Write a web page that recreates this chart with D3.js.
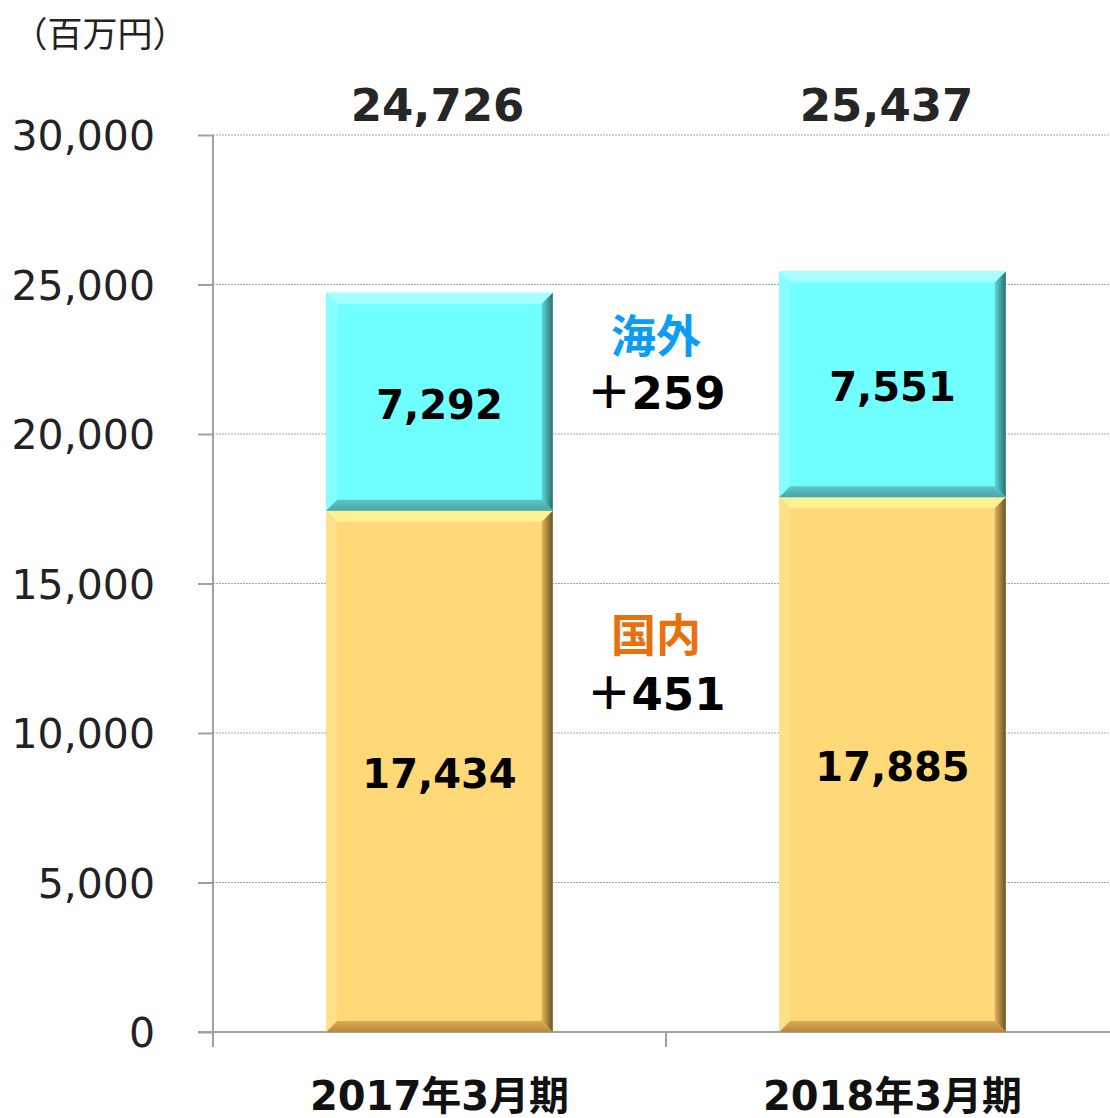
<!DOCTYPE html>
<html><head><meta charset="utf-8">
<script src="https://cdn.jsdelivr.net/npm/d3@7"></script>
<style>
body{margin:0;background:#fff;}
svg text{font-family:"DejaVu Sans","Noto Sans CJK JP",sans-serif;}
</style></head>
<body><svg id="c" width="1110" height="1118"></svg>
<script>
const categories = ["2017年3月期", "2018年3月期"];
const domestic = [17434, 17885];
const overseas = [7292, 7551];
const totals = [24726, 25437];
const yTicks = [0, 5000, 10000, 15000, 20000, 25000, 30000];
const unitLabel = "（百万円）";
const overseasName = "海外", overseasChange = "＋259";
const domesticName = "国内", domesticChange = "＋451";

const svg = d3.select("#c");
const x = d3.scaleBand().domain(categories).range([213, 1119]).paddingInner(0).paddingOuter(0);
const y = d3.scaleLinear().domain([0, 30000]).range([1032, 135]);
const barW = x.bandwidth() * 0.5;
const bx = c => x(c) + (x.bandwidth() - barW) / 2;
const fmt = d3.format(",");

// gridlines
svg.append("g").selectAll("line").data(yTicks.filter(d => d > 0)).join("line")
  .attr("x1", 213).attr("x2", 1110).attr("y1", d => y(d)).attr("y2", d => y(d))
  .attr("stroke", "#a6a6a6").attr("stroke-width", 1).attr("stroke-dasharray", "2,1");

// axes
const ya = svg.append("g").attr("transform", "translate(213,0)")
  .call(d3.axisLeft(y).tickValues(yTicks).tickSize(15).tickPadding(0).tickFormat(fmt));
ya.select(".domain").attr("stroke", "#a0a0a0").attr("stroke-width", 2).attr("d", "M0,135V1047");
ya.selectAll(".tick line").attr("stroke", "#a0a0a0").attr("stroke-width", 2);
ya.selectAll(".tick text").attr("x", -58).attr("dy", "0.36em")
  .attr("font-size", 41).attr("fill", "#222").attr("font-family", "DejaVu Sans");

const xa = svg.append("g").attr("transform", "translate(0,1032)")
  .call(d3.axisBottom(x).tickSize(0).tickFormat(""));
xa.select(".domain").attr("stroke", "#a0a0a0").attr("stroke-width", 2).attr("d", "M198,0H1110");
svg.append("g").selectAll("line").data([213, 666]).join("line")
  .attr("x1", d => d).attr("x2", d => d).attr("y1", 1032).attr("y2", 1047)
  .attr("stroke", "#a0a0a0").attr("stroke-width", 2);

// gradients
const defs = svg.append("defs");
function grad(id, c1, c2, x2, y2) {
  const g = defs.append("linearGradient").attr("id", id).attr("x1", 0).attr("y1", 0).attr("x2", x2).attr("y2", y2);
  g.append("stop").attr("offset", 0).attr("stop-color", c1);
  g.append("stop").attr("offset", 1).attr("stop-color", c2);
}
const pal = {
  cyan: {base: "#6fffff", top: "#a8ffff", left: "#85ffff", right: ["#5fd8d8", "#2b6f6f"], bottom: ["#5cc6c6", "#4aa6a6"]},
  gold: {base: "#ffd878", top: "#fff094", left: "#ffe08a", right: ["#e0b55c", "#6b5222"], bottom: ["#d9ab55", "#b8893c"]}
};
Object.entries(pal).forEach(([k, p]) => {
  grad(k + "R", p.right[0], p.right[1], 1, 0);
  grad(k + "B", p.bottom[0], p.bottom[1], 0, 1);
});

function bevel(g, x0, y0, w, h, key) {
  const p = pal[key], b = 11;
  g.append("rect").attr("x", x0).attr("y", y0).attr("width", w).attr("height", h).attr("fill", p.base);
  const poly = (pts, fill) => g.append("polygon").attr("points", pts.map(q => q.join(",")).join(" ")).attr("fill", fill);
  poly([[x0, y0], [x0 + w, y0], [x0 + w - b, y0 + b], [x0 + b, y0 + b]], p.top);
  poly([[x0, y0], [x0 + b, y0 + b], [x0 + b, y0 + h - b], [x0, y0 + h]], p.left);
  poly([[x0 + w, y0], [x0 + w, y0 + h], [x0 + w - b, y0 + h - b], [x0 + w - b, y0 + b]], `url(#${key}R)`);
  poly([[x0, y0 + h], [x0 + b, y0 + h - b], [x0 + w - b, y0 + h - b], [x0 + w, y0 + h]], `url(#${key}B)`);
}

const bars = svg.append("g");
categories.forEach((c, i) => {
  bevel(bars, bx(c), y(domestic[i]), barW, y(0) - y(domestic[i]), "gold");
  bevel(bars, bx(c), y(domestic[i] + overseas[i]), barW, y(domestic[i]) - y(domestic[i] + overseas[i]), "cyan");
});

// value labels
const lab = svg.append("g").attr("text-anchor", "middle").attr("font-weight", "bold");
categories.forEach((c, i) => {
  const cx = bx(c) + barW / 2;
  lab.append("text").attr("x", cx).attr("y", (y(0) + y(domestic[i])) / 2).attr("dy", "0.42em")
    .attr("font-size", 40).attr("fill", "#000").text(fmt(domestic[i]));
  lab.append("text").attr("x", cx).attr("y", (y(domestic[i]) + y(domestic[i] + overseas[i])) / 2).attr("dy", "0.42em")
    .attr("font-size", 40).attr("fill", "#000").text(fmt(overseas[i]));
  lab.append("text").attr("x", cx - (i ? 6 : 2)).attr("y", y(30000) - 14)
    .attr("font-size", 45).attr("fill", "#262626").text(fmt(totals[i]));
  svg.append("text").attr("x", cx).attr("y", 1096).attr("dy", "0.36em").attr("text-anchor", "middle")
    .attr("font-weight", "bold").attr("font-size", 40).attr("fill", "#111").text(c);
});

// change annotations
const mx = (bx(categories[0]) + bx(categories[1]) + barW) / 2 - 10;
const ann = svg.append("g").attr("text-anchor", "middle").attr("font-weight", "bold");
ann.append("text").attr("x", mx).attr("y", y(23250)).attr("dy", "0.36em").attr("font-size", 45)
  .attr("fill", "#0b9cf6").attr("font-family", "Noto Sans CJK JP").text(overseasName);
ann.append("text").attr("x", mx).attr("y", y(21380)).attr("dy", "0.36em").attr("font-size", 45)
  .attr("fill", "#000").text(overseasChange);
ann.append("text").attr("x", mx).attr("y", y(13240)).attr("dy", "0.36em").attr("font-size", 45)
  .attr("fill", "#e8700f").attr("font-family", "Noto Sans CJK JP").text(domesticName);
ann.append("text").attr("x", mx).attr("y", y(11300)).attr("dy", "0.36em").attr("font-size", 45)
  .attr("fill", "#000").text(domesticChange);

// unit label
svg.append("text").attr("x", 100).attr("y", 34).attr("dy", "0.36em").attr("text-anchor", "middle")
  .attr("font-size", 35).attr("fill", "#222").attr("font-family", "Noto Sans CJK JP").text(unitLabel);
</script></body></html>
